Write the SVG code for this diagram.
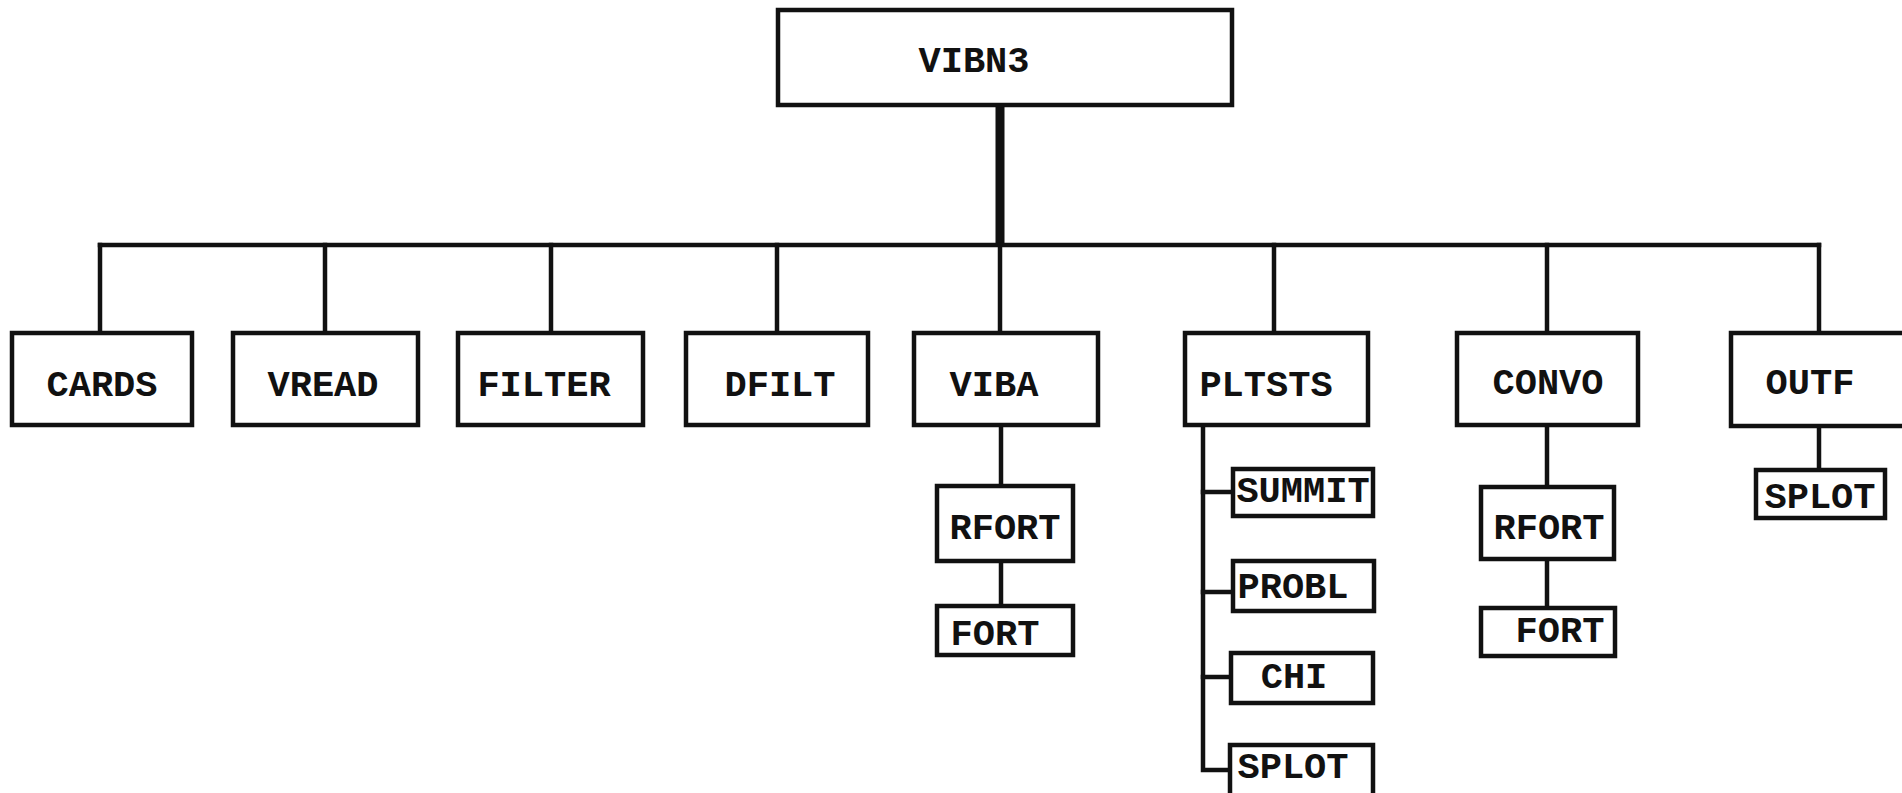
<svg xmlns="http://www.w3.org/2000/svg" width="1902" height="793" viewBox="0 0 1902 793">
<style>
.box{fill:#fff;stroke:#111;stroke-width:4.5}
.ln{fill:none;stroke:#111;stroke-width:4.5;stroke-linecap:square}
.trunk{fill:none;stroke:#111;stroke-width:9}
text{font-family:"Liberation Mono","Courier New",monospace;font-weight:bold;font-size:37px;fill:#111;text-anchor:middle}
</style>
<rect width="1902" height="793" fill="#fff"/>
<g id="connectors">
<line class="trunk" x1="1000" y1="105" x2="1000" y2="245"/>
<line class="ln" x1="100" y1="245" x2="1819" y2="245"/>
<line class="ln" x1="100" y1="245" x2="100" y2="333"/>
<line class="ln" x1="325" y1="245" x2="325" y2="333"/>
<line class="ln" x1="551" y1="245" x2="551" y2="333"/>
<line class="ln" x1="777" y1="245" x2="777" y2="333"/>
<line class="ln" x1="1000" y1="245" x2="1000" y2="333"/>
<line class="ln" x1="1274" y1="245" x2="1274" y2="333"/>
<line class="ln" x1="1547" y1="245" x2="1547" y2="333"/>
<line class="ln" x1="1819" y1="245" x2="1819" y2="333"/>
<line class="ln" x1="1001" y1="425" x2="1001" y2="486"/>
<line class="ln" x1="1001" y1="561" x2="1001" y2="606"/>
<polyline class="ln" points="1203,425 1203,770 1231,770"/>
<line class="ln" x1="1203" y1="492" x2="1233" y2="492"/>
<line class="ln" x1="1203" y1="592" x2="1233" y2="592"/>
<line class="ln" x1="1203" y1="677" x2="1231" y2="677"/>
<line class="ln" x1="1547" y1="425" x2="1547" y2="487"/>
<line class="ln" x1="1547" y1="559" x2="1547" y2="608"/>
<line class="ln" x1="1819" y1="426" x2="1819" y2="470"/>
</g>
<g id="VIBN3"><rect class="box" x="778" y="10" width="454" height="95"/><text x="974" y="72">VIBN3</text></g>
<g id="CARDS"><rect class="box" x="12" y="333" width="180" height="92"/><text x="102" y="396">CARDS</text></g>
<g id="VREAD"><rect class="box" x="233" y="333" width="185" height="92"/><text x="323" y="396">VREAD</text></g>
<g id="FILTER"><rect class="box" x="458" y="333" width="185" height="92"/><text x="544" y="396">FILTER</text></g>
<g id="DFILT"><rect class="box" x="686" y="333" width="182" height="92"/><text x="780" y="396">DFILT</text></g>
<g id="VIBA"><rect class="box" x="914" y="333" width="184" height="92"/><text x="994" y="396">VIBA</text></g>
<g id="PLTSTS"><rect class="box" x="1185" y="333" width="183" height="92"/><text x="1266" y="396">PLTSTS</text></g>
<g id="CONVO"><rect class="box" x="1457" y="333" width="181" height="92"/><text x="1548" y="394">CONVO</text></g>
<g id="OUTF"><rect class="box" x="1731" y="333" width="200" height="93"/><text x="1810" y="394">OUTF</text></g>
<g id="VIBA_RFORT"><rect class="box" x="937" y="486" width="136" height="75"/><text x="1005" y="539">RFORT</text></g>
<g id="VIBA_FORT"><rect class="box" x="937" y="606" width="136" height="49"/><text x="995" y="645">FORT</text></g>
<g id="SUMMIT"><rect class="box" x="1233" y="469" width="140" height="47"/><text x="1303" y="502">SUMMIT</text></g>
<g id="PROBL"><rect class="box" x="1233" y="561" width="141" height="50"/><text x="1293" y="598">PROBL</text></g>
<g id="CHI"><rect class="box" x="1231" y="653" width="142" height="50"/><text x="1294" y="688">CHI</text></g>
<g id="PLTSTS_SPLOT"><rect class="box" x="1230" y="745" width="143" height="60"/><text x="1293" y="778">SPLOT</text></g>
<g id="CONVO_RFORT"><rect class="box" x="1481" y="487" width="133" height="72"/><text x="1549" y="539">RFORT</text></g>
<g id="CONVO_FORT"><rect class="box" x="1481" y="608" width="134" height="48"/><text x="1560" y="642">FORT</text></g>
<g id="OUTF_SPLOT"><rect class="box" x="1756" y="470" width="129" height="48"/><text x="1820" y="508">SPLOT</text></g>
</svg>
